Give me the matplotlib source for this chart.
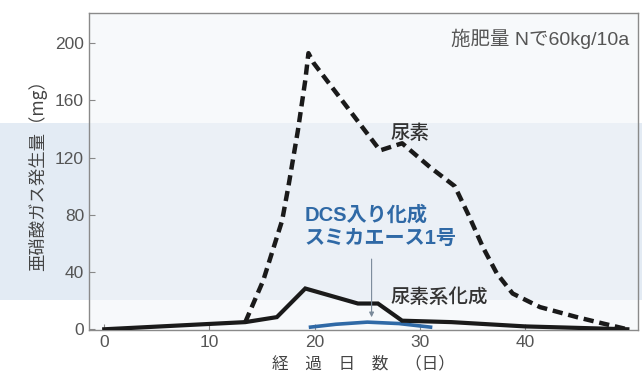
import matplotlib
matplotlib.use("Agg")
import matplotlib.pyplot as plt
from matplotlib.patches import Rectangle

plt.rcParams["font.family"] = ["Noto Sans CJK JP", "DejaVu Sans"]

# 尿素 (urea), dashed
urea_days = [13.4, 15.1, 16.0, 16.9, 17.5, 18.4, 19.1, 19.4, 19.9, 26.2, 28.3, 31.0,
             33.3, 34.6, 36.0, 37.3, 38.8, 41.4, 44.9, 47.4, 49.7]
urea_mg = [5, 34, 55, 76, 100, 139, 174, 193, 186, 125, 130, 113,
           100, 80, 57, 39, 25, 15.5, 8.5, 4, 0]

# 尿素系化成 (urea-based compound), solid black
comp_days = [0, 13.4, 16.4, 19.1, 24.1, 26.0, 28.3, 33.0, 40.0, 49.7]
comp_mg = [0, 5, 8.5, 28.5, 18, 18, 6, 5, 2, 0]

# DCS入り化成 スミカエース1号, solid blue
dcs_days = [19.6, 22.0, 25.0, 28.0, 31.0]
dcs_mg = [1.5, 3.5, 5, 4, 1.5]

xticks = [0, 10, 20, 30, 40]
yticks = [0, 40, 80, 120, 160, 200]

GRAY = "#555555"
BLUE = "#2f69a6"
LATIN_CJK = ["Liberation Sans", "Noto Sans CJK JP"]

fig = plt.figure(figsize=(6.42, 3.80), dpi=100)
fig.patch.set_facecolor("white")
# pale blue band behind the figure
fig.patches.append(Rectangle((0, 0.21), 1, 0.466, transform=fig.transFigure,
                             facecolor="#e3ebf4", edgecolor="none", zorder=-10))

ax = fig.add_axes([0.1386, 0.1316, 0.855, 0.834])
ax.set_facecolor((0.95, 0.96, 0.975, 0.55))

ax.plot(urea_days, urea_mg, color="#1a1a1a", lw=3.2, dashes=(2.3, 1.3),
        solid_capstyle="butt", zorder=4)
ax.plot(comp_days, comp_mg, color="#1a1a1a", lw=3.0, solid_joinstyle="miter", zorder=3)
ax.plot(dcs_days, dcs_mg, color=BLUE, lw=2.6, zorder=2)

ax.set_xlim(-1.45, 50.7)
ax.set_ylim(-0.5, 221)
ax.set_xticks(xticks)
ax.set_yticks(yticks)
ax.tick_params(direction="in", length=4, width=0.8, colors="#888888",
               labelcolor=GRAY, labelsize=12.5)
for lbl in ax.get_xticklabels() + ax.get_yticklabels():
    lbl.set_family("Liberation Sans")
for s in ax.spines.values():
    s.set_color("#8a8a8a")
    s.set_linewidth(1.0)

ax.set_xlabel("経　過　日　数　（日）", color="#444444", fontsize=12, labelpad=4)
ax.set_ylabel("亜硝酸ガス発生量（mg）", color="#444444", fontsize=12.5, labelpad=6)

ax.text(0.985, 0.95, "施肥量 Nで60kg/10a", transform=ax.transAxes, ha="right",
        va="top", fontsize=14, color=GRAY, family=LATIN_CJK)
ax.text(27.2, 137, "尿素", fontsize=14, color="#333333", ha="left", va="center",
        fontweight="medium")
ax.text(27.2, 22, "尿素系化成", fontsize=14, color="#333333", ha="left", va="center",
        fontweight="medium")
ax.text(19.0, 72, "DCS入り化成\nスミカエース1号", fontsize=14.5, color=BLUE,
        fontweight="bold", ha="left", va="center", linespacing=1.3, family=LATIN_CJK)
ax.annotate("", xy=(25.4, 6.5), xytext=(25.4, 51),
            arrowprops=dict(arrowstyle="-|>", color="#7a8a9a", lw=0.8,
                            mutation_scale=7))

fig.savefig("out.png", dpi=100)
